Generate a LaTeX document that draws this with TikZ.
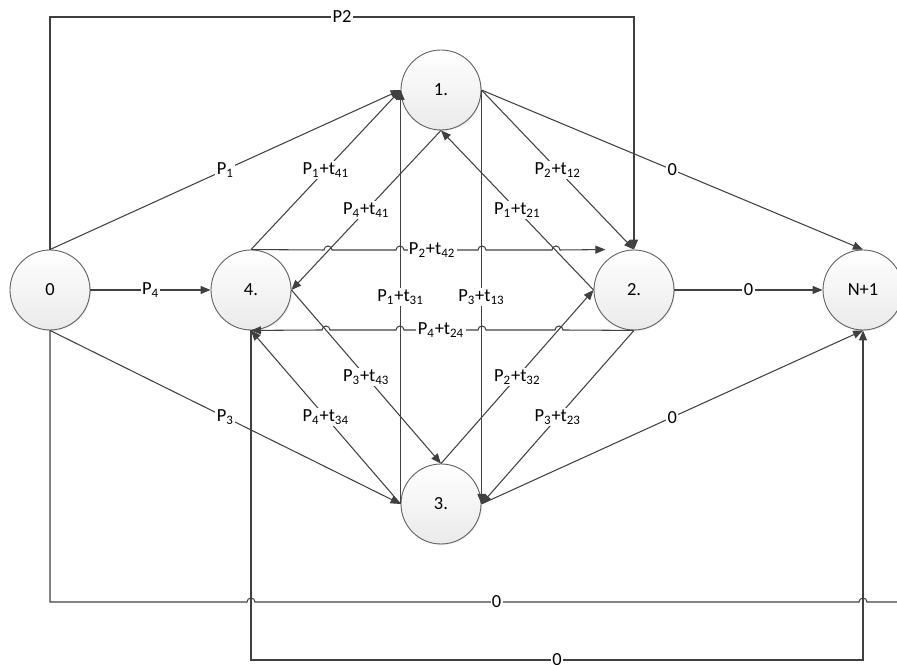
\documentclass[tikz,border=0pt]{standalone}
\usepackage{fontspec}
\setmainfont{Carlito}
\usetikzlibrary{arrows.meta,calc,shadows}
\definecolor{linegray}{RGB}{64,64,64}
\definecolor{rimgray}{RGB}{95,95,95}
\definecolor{fillgray}{RGB}{234,234,234}
\tikzset{
  stopnode/.style={circle, draw=rimgray, line width=0.5pt, minimum size=1.6cm, inner sep=0pt,
    top color=white, bottom color=fillgray, font=\fontsize{10.5}{12}\selectfont,
    drop shadow={shadow xshift=0.6pt, shadow yshift=-0.6pt, opacity=0.15}},
  flow/.style={draw=linegray, line width=0.6pt, -{Triangle[length=2mm,width=1.6mm]}},
  cost/.style={fill=white, inner sep=0.8pt, font=\fontsize{10.5}{12}\selectfont},
  hop/.style={radius=0.08cm}
}
\newcommand{\Pt}[2]{P\textsubscript{#1}+t\textsubscript{#2}}

\begin{document}
\begin{tikzpicture}[x=0.02cm, y=0.02cm]
\useasboundingbox (0,0) rectangle (897,665);
\coordinate (toprail) at (0,648);
\coordinate (midrail) at (0,63);
\coordinate (lowrail) at (0,5);

\node[stopnode] (n0) at (50,375) {0};
\node[stopnode] (n4) at (251,375) {4.};
\node[stopnode] (n1) at (441,575) {1.};
\node[stopnode] (n2) at (634,375) {2.};
\node[stopnode] (n3) at (441,161) {3.};
\node[stopnode] (nN) at (863,375) {N+1};

% from the depot
\draw[flow] (n0.north) -- node[cost]{P\textsubscript{1}} (n1.west);
\draw[flow] (n0.east) -- node[cost]{P\textsubscript{4}} (n4.west);
\draw[flow] (n0.south) -- node[cost]{P\textsubscript{3}} (n3.west);
\draw[flow] (n0.north) -- (n0.north |- toprail) -| node[cost,pos=0.25]{P2} (n2.north);
\draw[flow] (n0.south) -- (n0.south |- midrail) -- (247,63) arc[start angle=180,end angle=0,hop]
  -- node[cost,pos=0.4]{0} (859,63) arc[start angle=180,end angle=0,hop] -- (910,63) |- (nN.east);

% between the customers
\draw[flow] (n1.east) -- node[cost]{\Pt{2}{12}} (n2.north);
\draw[flow] (n2.west) -- node[cost]{\Pt{1}{21}} (n1.south);
\draw[flow] (n1.east) -- node[cost]{\Pt{3}{13}} (n3.east);
\draw[flow] (n3.west) -- node[cost]{\Pt{1}{31}} (n1.west);
\draw[flow] (n4.north) -- node[cost]{\Pt{1}{41}} (n1.west);
\draw[flow] (n1.south) -- node[cost]{\Pt{4}{41}} (n4.east);
\draw[flow] (n4.east) -- node[cost]{\Pt{3}{43}} (n3.north);
\draw[flow] (n3.west) -- node[cost]{\Pt{4}{34}} (n4.south);
\draw[flow] (n3.north) -- node[cost]{\Pt{2}{32}} (n2.west);
\draw[flow] (n2.south) -- node[cost]{\Pt{3}{23}} (n3.east);
\draw[flow] (n4.north) -- (324,415) arc[start angle=180,end angle=0,hop]
  -- (396,415) arc[start angle=180,end angle=0,hop]
  -- node[cost,pos=0.38]{\Pt{2}{42}} (478,415) arc[start angle=180,end angle=0,hop]
  -- (552,415) arc[start angle=180,end angle=0,hop] -- (n2.north west |- n4.north);
\draw[flow] (n2.south) -- (563,335) arc[start angle=0,end angle=180,hop]
  -- (486,335) arc[start angle=0,end angle=180,hop]
  -- node[cost]{\Pt{4}{24}} (404,335) arc[start angle=0,end angle=180,hop]
  -- (330,335) arc[start angle=0,end angle=180,hop] -- (n4.south);

% to the end depot
\draw[flow] (n1.east) -- node[cost]{0} (nN.north);
\draw[flow] (n2.east) -- node[cost]{0} (nN.west);
\draw[flow] (n3.east) -- node[cost]{0} (nN.south);
\draw[flow] (n4.south) -- (n4.south |- lowrail) -| node[cost,pos=0.25]{0} (nN.south);
\end{tikzpicture}
\end{document}
